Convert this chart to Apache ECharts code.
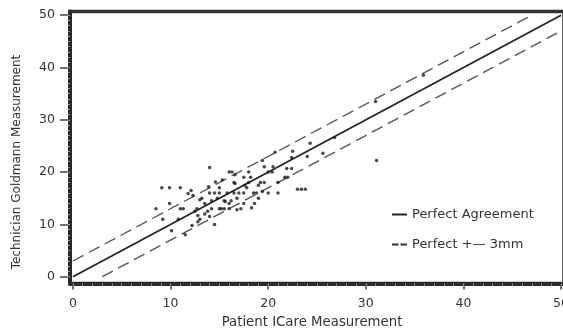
<!DOCTYPE html>
<html><head><meta charset="utf-8">
<script src="https://cdn.jsdelivr.net/npm/echarts@6/dist/echarts.min.js"></script>
<style>html,body{margin:0;padding:0;background:#fff}#c{width:563px;height:330px}</style>
</head><body><div id="c"></div>
<script>
const patientICare = [9.1,9.9,11.0,8.5,9.9,11.0,11.3,12.7,9.2,12.8,13.0,12.2,10.1,11.5,11.8,12.1,13.2,13.5,13.8,14.2,14.5,14.8,15.0,15.2,15.5,15.8,16.0,16.3,16.5,16.8,17.0,17.2,17.5,17.8,18.0,18.2,18.3,18.6,18.8,19.0,19.2,19.4,19.4,19.6,20.0,20.4,20.7,21.0,21.7,21.9,22.4,22.4,22.0,23.0,23.4,23.8,24.3,25.6,26.8,31.1,31.0,35.9,14.0,14.0,15.0,16.5,17.5,18.5,13.0,14.2,15.6,16.0,16.2,15.0,15.5,16.0,16.8,13.5,14.0,12.8,17.5,18.0,19.0,20.0,20.5,21.0,19.6,16.6,17.6,16.6,15.3,12.3,13.9,14.6,22.5,24.0,12.5,10.8,14.5];
const technicianGoldmann = [17,17,17,13,14,13,13,13,11,11.7,11,9.8,8.8,8,15.9,16.5,15,14,12.5,13,16,15,17,13,14.5,16,20,20,18,15,16,13,14,17,20,19,13.2,14,16,17.5,18,16.3,22.2,21,16,20,23.8,16,19,20.7,20.7,22.8,19,16.7,16.7,16.7,25.5,23.6,26.6,22.2,33.5,38.5,20.9,16,16,16,16,16,14.7,14.5,14.4,14,14.5,13,13,13,12.8,12,11.5,10.5,19,18,15,20,21,18,18,17.8,17.5,19.5,18.5,15.5,17.2,18.1,24,23,12.5,11,10];
const xTickLabels = [0,10,20,30,40,50];
const yTickLabels = [0,10,20,30,40,50];
const agreementX = [0,50], agreementY = [0,50];
const upperX = [0,47], upperY = [3,50];
const lowerX = [3,50], lowerY = [0,47];
const legendNames = ['Perfect Agreement','Perfect +\u2014 3mm'];
const minorTicks = [];
for (let i = 0; i <= 50; i++) minorTicks.push(i);

const zip = (a,b) => a.map((v,i)=>[v,b[i]]);
const FONT = 'DejaVu Sans';
const chart = echarts.init(document.getElementById('c'), null, {renderer:'canvas'});

function axisPair(isX, mn, mx, tickLen, labelMargin) {
  const pos = isX ? 'bottom' : 'left';
  const base = { type:'value', min:mn, max:mx, position:pos, offset:0, splitLine:{show:false} };
  const main = Object.assign({}, base, {
    axisLine:{show:true, onZero:false, lineStyle:{color:'#2a2a2a', width:4}},
    axisTick:{show:true, customValues:isX?xTickLabels:yTickLabels, length:tickLen, lineStyle:{color:'#444', width:1.5}},
    axisLabel:{show:true, customValues:isX?xTickLabels:yTickLabels, fontSize:12.5, color:'#333', fontFamily:FONT, margin:labelMargin}
  });
  const minor = Object.assign({}, base, {
    axisLine:{show:false, onZero:false},
    axisTick:{show:true, customValues:minorTicks, length:2.5, lineStyle:{color:'#999', width:1}},
    axisLabel:{show:false}
  });
  return [main, minor];
}

const option = {
  backgroundColor:'#fff',
  animation:false,
  grid:{left:70, top:11.5, width:494, height:272, show:true, borderColor:'#333', borderWidth:3.5, backgroundColor:'transparent', outerBoundsMode:'none', containLabel:false},
  xAxis: axisPair(true, -0.3, 50.3, 6, 14),
  yAxis: axisPair(false, -1.3, 50.7, 10, 15),
  legend:{
    data:[
      {name:legendNames[0], icon:'rect', itemStyle:{color:'#222'}},
      {name:legendNames[1], icon:'path://M0,0h10v3h-10z M13,0h10v3h-10z', itemStyle:{color:'#333'}}
    ],
    orient:'vertical', left:387, top:203, itemWidth:15, itemHeight:2, itemGap:17,
    textStyle:{fontFamily:FONT, fontSize:13, color:'#333'}
  },
  graphic:[
    {type:'text', x:17, y:162, rotation:Math.PI/2, style:{text:'Technician Goldmann Measurement', font:'12px "DejaVu Sans"', fill:'#333', textAlign:'center', textVerticalAlign:'middle'}},
    {type:'text', x:312, y:323, style:{text:'Patient ICare Measurement', font:'13.3px "DejaVu Sans"', fill:'#333', textAlign:'center', textVerticalAlign:'middle'}}
  ],
  series:[
    {type:'scatter', name:'points', data:zip(patientICare, technicianGoldmann), symbolSize:3.5, itemStyle:{color:'#1a1a1a'}, z:5},
    {type:'line', name:legendNames[0], data:zip(agreementX, agreementY), symbol:'none', itemStyle:{color:'#222'}, lineStyle:{color:'#222', width:1.7}, z:3},
    {type:'line', name:legendNames[1], data:zip(upperX, upperY), symbol:'none', itemStyle:{color:'#555'}, lineStyle:{color:'#555', width:1.4, type:[12,6]}, z:3},
    {type:'line', name:legendNames[1], data:zip(lowerX, lowerY), symbol:'none', itemStyle:{color:'#555'}, lineStyle:{color:'#555', width:1.4, type:[12,6]}, z:3}
  ]
};
chart.setOption(option);
</script>
</body></html>
